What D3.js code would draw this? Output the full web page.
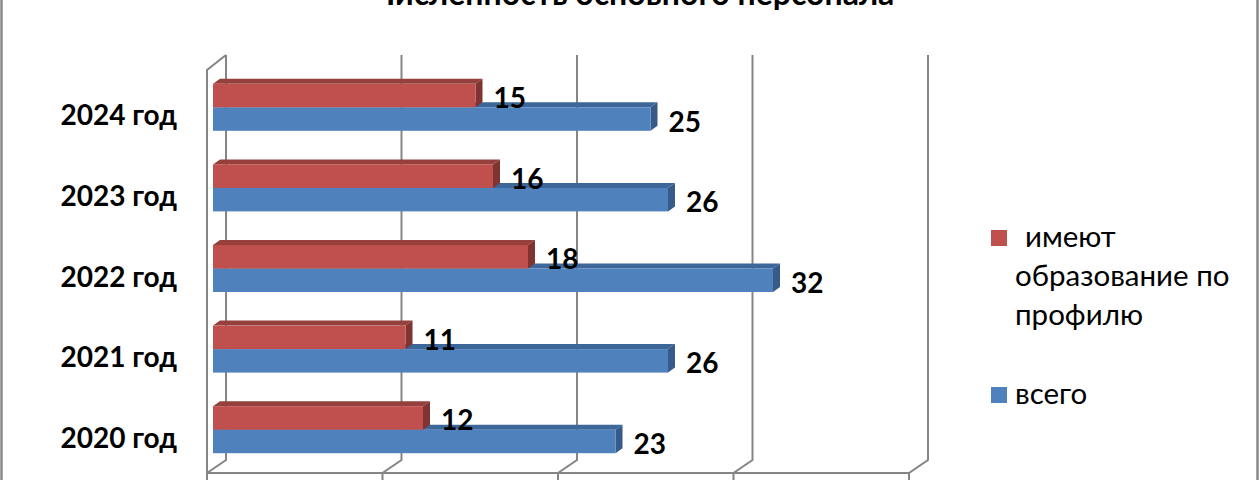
<!DOCTYPE html>
<html><head><meta charset="utf-8">
<script src="https://cdn.jsdelivr.net/npm/d3@7"></script>
<style>body{margin:0;background:#fff}svg{display:block}</style>
</head><body>
<svg id="c" width="1260" height="480"></svg>
<script>
const title = "Численность основного персонала";
const categories = ["2020 год","2021 год","2022 год","2023 год","2024 год"];
const seriesNames = ["имеют образование по профилю","всего"];
const profil = [12,11,18,16,15];
const vsego = [23,26,32,26,25];
const ticks = [0,10,20,30,40];

const svg = d3.select("#c");
const FONT = "Lato, 'Open Sans', sans-serif";
const GRID = "#858585";
const DX = -19, DY = 13; // back -> front offset of walls
const xBack = d3.scaleLinear().domain([0,40]).range([226,928]);
const xBar = d3.scaleLinear().domain([0,40]).range([213,913]);
const yTopBack = 55, yFloorBack = 460;
const yCat = d3.scaleBand().domain(categories.slice().reverse()).range([67,470]);
const ySer = d3.scaleBand().domain(["p","v"]).range([-23.5,23.5]);
const colors = {p:{front:"#C0504D",top:"#95403d",side:"#7f3432"}, v:{front:"#4F81BD",top:"#3d6699",side:"#365b88"}};
const BD = {dx:7, dy:-5};

// outer border
svg.append("line").attr("x1",1.5).attr("x2",1.5).attr("y1",-5).attr("y2",485).attr("stroke","#8a8a8a").attr("stroke-width",2.5);
svg.append("line").attr("x1",1257.5).attr("x2",1257.5).attr("y1",-5).attr("y2",485).attr("stroke","#8a8a8a").attr("stroke-width",2.5);

// title (cut off at top edge, as in the reference)
svg.append("text").attr("x",634).attr("y",5).attr("text-anchor","middle")
  .attr("font-family",FONT).attr("font-weight","bold").attr("font-size",32).text(title);

const g = svg.append("g").attr("fill","none").attr("stroke",GRID).attr("stroke-width",2);
// left wall
g.append("path").attr("d",`M${xBack(0)+DX},${473+5}V${yTopBack+DY+2}L${xBack(0)},${yTopBack}`);
// gridlines on back wall + floor
ticks.forEach(t=>{
  const xb = xBack(t);
  g.append("path").attr("d",`M${xb},${yTopBack}V${yFloorBack}L${xb+DX},${yFloorBack+DY}V${485}`);
});
// floor front edge
g.append("path").attr("d",`M${xBack(0)+DX},${yFloorBack+DY}H${xBack(40)+DX}`);

// bars
function bar(sel, key, vals){
  categories.forEach((c,i)=>{
    const v = vals[i];
    const y0 = yCat(c) + yCat.bandwidth()/2 + ySer(key);
    const h = ySer.bandwidth();
    const x0 = xBar(0), x1 = xBar(v);
    const col = colors[key];
    sel.append("path").attr("fill",col.top)
      .attr("d",`M${x0},${y0}L${x0+BD.dx},${y0+BD.dy}H${x1+BD.dx}L${x1},${y0}Z`);
    sel.append("path").attr("fill",col.side)
      .attr("d",`M${x1},${y0}L${x1+BD.dx},${y0+BD.dy}V${y0+h+BD.dy}L${x1},${y0+h}Z`);
    sel.append("rect").attr("x",x0).attr("y",y0).attr("width",x1-x0).attr("height",h).attr("fill",col.front);
  });
}
const bars = svg.append("g");
bar(bars,"v",vsego);
bar(bars,"p",profil);

// value labels
const lab = svg.append("g").attr("font-family",FONT).attr("font-weight","bold").attr("font-size",28).attr("fill","#000");
[["p",profil],["v",vsego]].forEach(([key,vals])=>{
  categories.forEach((c,i)=>{
    const yc = yCat(c) + yCat.bandwidth()/2 + ySer(key) + ySer.bandwidth()/2 + 2.5;
    lab.append("text").attr("x",xBar(vals[i])+18).attr("y",yc+10).text(vals[i]);
  });
});

// category labels
const cl = svg.append("g").attr("font-family",FONT).attr("font-weight","bold").attr("font-size",28).attr("text-anchor","end");
categories.forEach(c=>{
  cl.append("text").attr("x",177).attr("y",yCat(c)+yCat.bandwidth()/2+18).text(c);
});

// legend
const lg = svg.append("g").attr("font-family",FONT).attr("font-size",29.5).attr("fill","#000");
lg.append("rect").attr("x",991).attr("y",230).attr("width",16).attr("height",16).attr("fill",colors.p.front);
const words = ["имеют","образование по","профилю"];
words.forEach((w,i)=>{
  lg.append("text").attr("x", i===0?1025:1015).attr("y",247+i*39).text(w);
});
lg.append("rect").attr("x",991).attr("y",387).attr("width",16).attr("height",16).attr("fill",colors.v.front);
lg.append("text").attr("x",1015).attr("y",404).text(seriesNames[1]);
</script>
</body></html>
